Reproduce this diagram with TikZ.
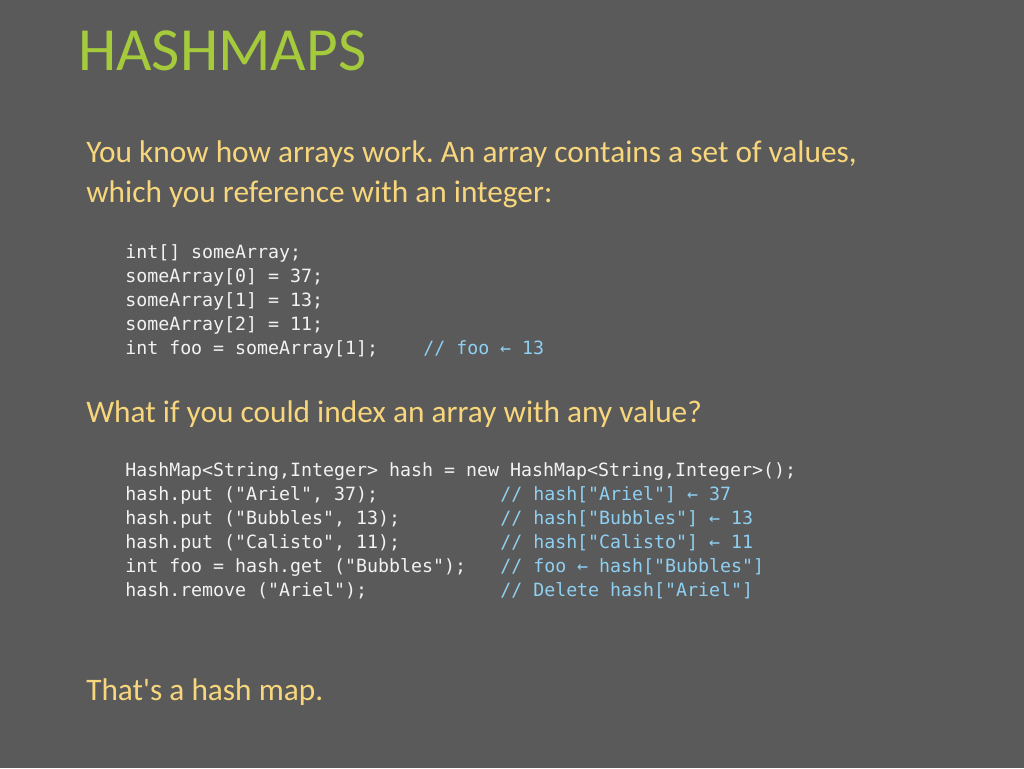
\documentclass[tikz,border=0pt]{standalone}
\usepackage{fontspec}
\setmainfont[Ligatures=ResetAll]{Carlito}
\setmonofont{DejaVu Sans Mono}
\frenchspacing
\definecolor{slidebg}{HTML}{5A5A5A}
\definecolor{titlegreen}{HTML}{A5CA3C}
\definecolor{textyellow}{HTML}{F7D67C}
\definecolor{codewhite}{HTML}{F2F2F2}
\definecolor{commentblue}{HTML}{8FD0F2}
\tikzset{
  % slide title
  title/.style = {anchor = base west, inner sep = 0, text = titlegreen,
    font = \fontsize{46pt}{48pt}\selectfont},
  % body sentence
  para/.style = {anchor = base west, inner sep = 0, text = textyellow,
    font = \fontsize{23.5pt}{26pt}\selectfont},
  % code line
  code/.style = {anchor = base west, inner sep = 0, text = codewhite,
    font = \ttfamily\fontsize{13.7pt}{16pt}\selectfont},
  comment/.style = {code, text = commentblue}
}
\begin{document}
\begin{tikzpicture}[x=0.75pt, y=-0.75pt]
  \fill[slidebg] (0,0) rectangle (1024,768);
  \node[title] (heading) at (78,70) {HASHMAPS};

  \node[para] (intro-a) at (86,162) {You know how arrays work. An array contains a set of values,};
  \node[para] (intro-b) at (86,202) {which you reference with an integer:};

  \node[code] (arr-a) at (125,258) {int[] someArray;};
  \node[code] (arr-b) at (125,282) {someArray[0] = 37;};
  \node[code] (arr-c) at (125,306) {someArray[1] = 13;};
  \node[code] (arr-d) at (125,330) {someArray[2] = 11;};
  \node[code] (arr-e) at (125,354) {int foo = someArray[1];};
  \node[comment] (arr-note) at (423,354) {// foo ← 13};

  \node[para] (question) at (86,422) {What if you could index an array with any value?};

  \node[code] (map-a) at (125,476) {HashMap<String,Integer> hash = new HashMap<String,Integer>();};
  \node[code] (map-b) at (125,500) {hash.put ("Ariel", 37);};
  \node[code] (map-c) at (125,524) {hash.put ("Bubbles", 13);};
  \node[code] (map-d) at (125,548) {hash.put ("Calisto", 11);};
  \node[code] (map-e) at (125,572) {int foo = hash.get ("Bubbles");};
  \node[code] (map-f) at (125,596) {hash.remove ("Ariel");};
  \node[comment] (note-b) at (500,500) {// hash["Ariel"] ← 37};
  \node[comment] (note-c) at (500,524) {// hash["Bubbles"] ← 13};
  \node[comment] (note-d) at (500,548) {// hash["Calisto"] ← 11};
  \node[comment] (note-e) at (500,572) {// foo ← hash["Bubbles"]};
  \node[comment] (note-f) at (500,596) {// Delete hash["Ariel"]};

  \node[para] (closing) at (86,700) {That\textquotesingle s a hash map.};
\end{tikzpicture}
\end{document}
